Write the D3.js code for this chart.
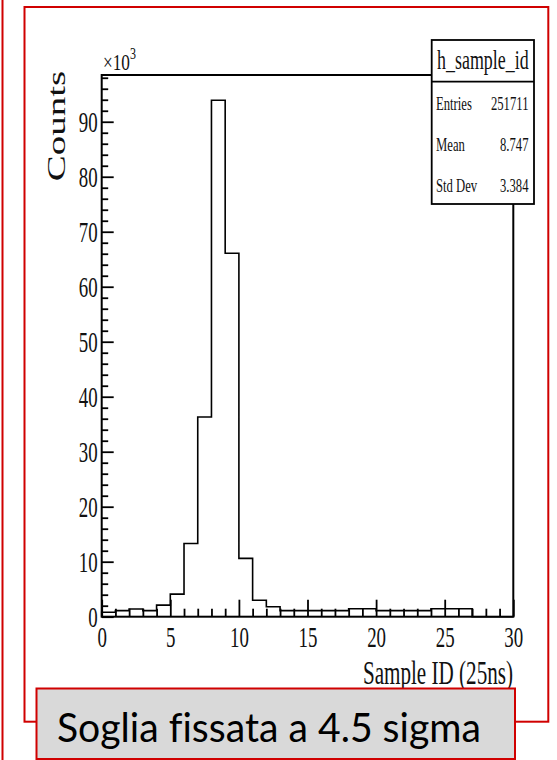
<!DOCTYPE html>
<html>
<head>
<meta charset="utf-8">
<script src="https://cdn.jsdelivr.net/npm/d3@7/dist/d3.min.js"></script>
<style>
  html, body { margin: 0; padding: 0; background: #fff; }
  svg { display: block; }
</style>
</head>
<body>
<div id="chart"></div>
<script>
// ---- data ----
const binStarts = d3.range(0, 30);
const counts = [800, 1100, 1400, 1100, 2100, 4100, 13300, 36300, 93900, 66100,
                10600, 3000, 1800, 1100, 1100, 1100, 1100, 1100, 1450, 1450,
                1100, 1100, 1100, 1100, 1450, 1450, 1450, 0, 0, 0];
const xMajorTicks = [0, 5, 10, 15, 20, 25, 30];
const yMajorTicks = [0, 10000, 20000, 30000, 40000, 50000, 60000, 70000, 80000, 90000];
const statLabels = ["Entries", "Mean", "Std Dev"];
const statValues = ["251711", "8.747", "3.384"];
const histName = "h_sample_id";
const xTitle = "Sample ID (25ns)";
const yTitle = "Counts";
const caption = "Soglia fissata a 4.5 sigma";

// ---- layout ----
const W = 557, H = 760;
const SX = 0.64;               // horizontal compression of the ROOT image text
const serif = "'Liberation Serif', 'DejaVu Serif', serif";
const red = "#d00000";

const svg = d3.select("#chart").append("svg").attr("width", W).attr("height", H);
svg.append("rect").attr("width", W).attr("height", H).attr("fill", "#fff");

const x = d3.scaleLinear().domain([0, 30]).range([101.7, 513.3]);
const y = d3.scaleLinear().domain([0, 98500]).range([616.7, 75]);

function sText(g, X, Y, str, size, anchor, sx) {
  return g.append("text")
    .attr("x", X / sx).attr("y", Y)
    .attr("transform", `scale(${sx},1)`)
    .attr("font-family", serif).attr("font-size", size)
    .attr("text-anchor", anchor).attr("fill", "#111")
    .text(str);
}

// outer red frames
svg.append("line").attr("x1", 2.5).attr("x2", 2.5).attr("y1", 0).attr("y2", H)
  .attr("stroke", red).attr("stroke-width", 2);
svg.append("rect").attr("x", 24.5).attr("y", 7).attr("width", 548.3 - 24.5).attr("height", 721.7 - 7)
  .attr("fill", "none").attr("stroke", red).attr("stroke-width", 2);

// x ticks
const xAxisMinor = svg.append("g").attr("transform", `translate(0,${y(0)})`)
  .call(d3.axisBottom(x).tickValues(d3.range(0, 31).filter(d => d % 5 !== 0)).tickSize(-8).tickFormat(""));
const xAxisMajor = svg.append("g").attr("transform", `translate(0,${y(0)})`)
  .call(d3.axisBottom(x).tickValues(xMajorTicks).tickSize(-17).tickFormat(d3.format("d")));
[xAxisMinor, xAxisMajor].forEach(g => {
  g.select(".domain").remove();
  g.selectAll(".tick line").attr("stroke", "#000").attr("stroke-width", 1.8);
});
xAxisMajor.selectAll(".tick text")
  .attr("y", 30).attr("dy", 0)
  .attr("transform", `scale(${SX},1)`)
  .attr("font-family", serif).attr("font-size", 29.5).attr("fill", "#111");

// y ticks
const yAxisMinor = svg.append("g").attr("transform", `translate(${x(0)},0)`)
  .call(d3.axisLeft(y).tickValues(d3.range(0, 98001, 2000).filter(d => d % 10000 !== 0)).tickSize(-6.5).tickFormat(""));
const yAxisMajor = svg.append("g").attr("transform", `translate(${x(0)},0)`)
  .call(d3.axisLeft(y).tickValues(yMajorTicks).tickSize(-12).tickFormat(d => d / 1000));
[yAxisMinor, yAxisMajor].forEach(g => {
  g.select(".domain").remove();
  g.selectAll(".tick line").attr("stroke", "#000").attr("stroke-width", 1.8);
});
yAxisMajor.selectAll(".tick text")
  .attr("x", -4 / SX).attr("dy", "0.34em")
  .attr("transform", `scale(${SX},1)`)
  .attr("text-anchor", "end")
  .attr("font-family", serif).attr("font-size", 29.5).attr("fill", "#111");

// frame
svg.append("rect").attr("x", x(0)).attr("y", y.range()[1])
  .attr("width", x(30) - x(0)).attr("height", y(0) - y.range()[1])
  .attr("fill", "none").attr("stroke", "#000").attr("stroke-width", 2);

// histogram outline
let p = d3.path();
p.moveTo(x(binStarts[0]), y(0));
binStarts.forEach((b, i) => {
  p.lineTo(x(b), y(counts[i]));
  p.lineTo(x(b + 1), y(counts[i]));
});
p.lineTo(x(30), y(0));
svg.append("path").attr("d", p.toString()).attr("fill", "none")
  .attr("stroke", "#000").attr("stroke-width", 1.6);

// x10^3
const MSX = 0.75;
const mult = svg.append("text").attr("x", 103 / MSX).attr("y", 70)
  .attr("transform", `scale(${MSX},1)`)
  .attr("font-family", serif).attr("font-size", 23).attr("fill", "#111");
mult.append("tspan").text("\u00d710");
mult.append("tspan").attr("dy", -11).attr("font-size", 16).text("3");

// axis titles
sText(svg, 513, 684, xTitle, 33, "end", SX);
svg.append("text")
  .attr("transform", `translate(65,126) scale(${SX},1) rotate(-90)`)
  .attr("font-family", serif).attr("font-size", 39).attr("text-anchor", "middle")
  .attr("fill", "#111").text(yTitle);

// stats box
const bx0 = 431.7, bx1 = 534, by0 = 40, by1 = 204;
svg.append("rect").attr("x", bx0).attr("y", by0).attr("width", bx1 - bx0).attr("height", by1 - by0)
  .attr("fill", "#fff").attr("stroke", "#000").attr("stroke-width", 1.8);
svg.append("line").attr("x1", bx0).attr("x2", bx1).attr("y1", 81.7).attr("y2", 81.7)
  .attr("stroke", "#000").attr("stroke-width", 1.8);
sText(svg, (bx0 + bx1) / 2, 69, histName, 28, "middle", SX);
const rowY = [110, 151.5, 192];
statLabels.forEach((s, i) => sText(svg, 436, rowY[i], s, 19.5, "start", 0.65));
statValues.forEach((s, i) => sText(svg, 528.5, rowY[i], s, 19.5, "end", 0.65));

// caption box
svg.append("rect").attr("x", 36.5).attr("y", 688.5).attr("width", 515 - 36.5).attr("height", 759 - 688.5)
  .attr("fill", "#d9d9d9").attr("stroke", red).attr("stroke-width", 2);
svg.append("text").attr("x", 57).attr("y", 742)
  .attr("font-family", "Lato, Carlito, 'Open Sans', sans-serif").attr("font-size", 40)
  .style("font-variant-ligatures", "none")
  .attr("textLength", 424).attr("lengthAdjust", "spacingAndGlyphs")
  .attr("fill", "#000").text(caption);
</script>
</body>
</html>
